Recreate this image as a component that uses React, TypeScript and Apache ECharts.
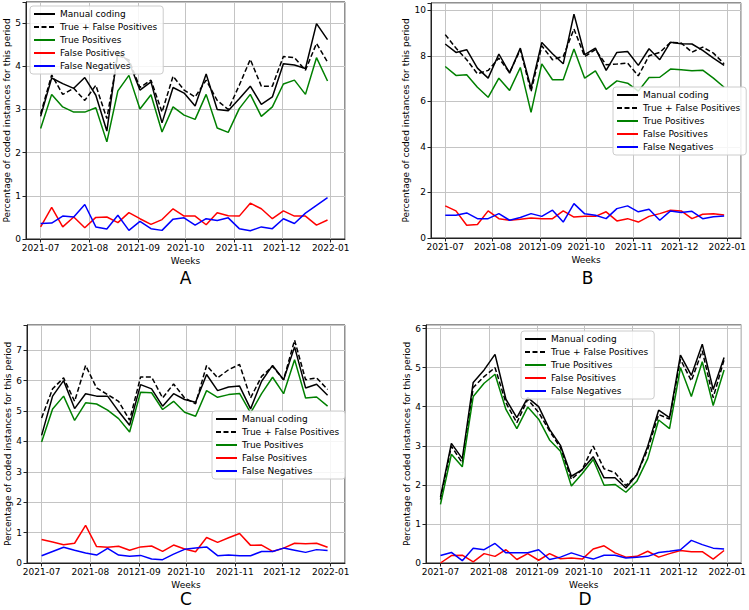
import React, { useEffect, useRef } from 'react';
import * as echarts from 'echarts';

const weekDates = [
  '2021-07-01', '2021-07-08', '2021-07-15', '2021-07-22', '2021-07-29',
  '2021-08-05', '2021-08-12', '2021-08-19', '2021-08-26',
  '2021-09-02', '2021-09-09', '2021-09-16', '2021-09-23', '2021-09-30',
  '2021-10-07', '2021-10-14', '2021-10-21', '2021-10-28',
  '2021-11-04', '2021-11-11', '2021-11-18', '2021-11-25',
  '2021-12-02', '2021-12-09', '2021-12-16', '2021-12-23', '2021-12-30',
];
const monthKeys = ['2021-07', '2021-08', '2021-09', '2021-10', '2021-11', '2021-12', '2022-01'];
const xTickLabels = ['2021-07', '2021-08', '20121-09', '2021-10', '2021-11', '2021-12', '2022-01'];
const seriesNames = ['Manual coding', 'True + False Positives', 'True Positives', 'False Positives', 'False Negatives'];
const panelLetters = ['A', 'B', 'C', 'D'];
const xAxisTitle = 'Weeks';
const yAxisTitle = 'Percentage of coded instances for this period';

// Panel A
const aManual = [2.84, 3.73, 3.6, 3.49, 3.74, 3.33, 2.5, 4.35, 4.1, 3.45, 3.64, 2.69, 3.51, 3.38, 3.08, 3.82, 3.0, 2.97, 3.25, 3.54, 3.12, 3.29, 4.06, 4.03, 3.95, 4.99, 4.62];
const aTFP = [2.9, 3.8, 3.35, 3.49, 3.21, 3.56, 2.79, 4.25, 4.15, 3.51, 3.68, 2.94, 3.77, 3.45, 3.29, 3.68, 3.21, 3.0, 3.56, 4.16, 3.54, 3.54, 4.23, 4.2, 3.91, 4.53, 4.1];
const aTP = [2.56, 3.35, 3.06, 2.94, 2.94, 3.04, 2.25, 3.43, 3.79, 3.01, 3.34, 2.48, 3.06, 2.87, 2.77, 3.35, 2.57, 2.47, 3.02, 3.35, 2.84, 3.06, 3.59, 3.68, 3.35, 4.2, 3.66];
const aFP = [0.28, 0.73, 0.28, 0.51, 0.26, 0.5, 0.51, 0.38, 0.61, 0.47, 0.34, 0.45, 0.7, 0.53, 0.53, 0.33, 0.61, 0.54, 0.53, 0.83, 0.7, 0.47, 0.65, 0.53, 0.53, 0.32, 0.44];
const aFN = [0.36, 0.37, 0.53, 0.51, 0.8, 0.28, 0.23, 0.55, 0.2, 0.41, 0.24, 0.2, 0.46, 0.49, 0.32, 0.47, 0.43, 0.49, 0.24, 0.19, 0.28, 0.24, 0.47, 0.36, 0.6, 0.78, 0.96];

// Panel B
const bManual = [8.52, 8.15, 8.27, 7.46, 7.02, 8.08, 7.24, 8.34, 6.58, 8.59, 8.09, 7.65, 9.83, 8.05, 8.34, 7.36, 8.15, 8.19, 7.58, 8.31, 7.83, 8.6, 8.53, 8.52, 8.24, 7.9, 7.58];
const bTFP = [8.93, 8.34, 7.83, 7.21, 7.36, 7.9, 7.27, 8.27, 6.43, 8.44, 7.83, 7.97, 9.18, 7.97, 8.27, 7.61, 7.64, 7.68, 7.12, 8.0, 8.15, 8.59, 8.56, 8.16, 8.38, 8.12, 7.65];
const bTP = [7.53, 7.14, 7.17, 6.62, 6.18, 7.02, 6.48, 7.49, 5.52, 7.65, 6.95, 6.95, 8.3, 7.02, 7.34, 6.53, 6.9, 6.8, 6.45, 7.05, 7.06, 7.42, 7.39, 7.34, 7.37, 7.02, 6.62];
const bFP = [1.41, 1.19, 0.56, 0.59, 1.19, 0.85, 0.78, 0.82, 0.88, 0.84, 0.85, 1.19, 0.92, 0.95, 0.95, 1.15, 0.75, 0.85, 0.7, 0.95, 1.07, 1.22, 1.19, 0.85, 1.04, 1.07, 1.01];
const bFN = [1.0, 1.0, 1.1, 0.85, 0.85, 1.07, 0.78, 0.9, 1.07, 0.95, 1.22, 0.7, 1.51, 1.06, 1.0, 0.85, 1.29, 1.41, 1.15, 1.26, 0.78, 1.19, 1.12, 1.17, 0.85, 0.93, 0.97];

// Panel C
const cManual = [4.2, 5.49, 6.0, 5.08, 5.57, 5.49, 5.49, 4.99, 4.53, 5.87, 5.73, 5.16, 5.57, 5.38, 5.29, 6.2, 5.67, 5.79, 5.82, 5.07, 5.98, 6.5, 6.03, 7.11, 5.76, 5.88, 5.52];
const cTFP = [4.77, 5.73, 6.09, 5.32, 6.5, 5.76, 5.54, 5.32, 4.7, 6.12, 6.12, 5.43, 5.89, 5.43, 5.24, 6.5, 6.09, 6.36, 6.53, 5.43, 6.14, 6.47, 6.03, 7.33, 6.03, 6.09, 5.71];
const cTP = [3.98, 5.07, 5.49, 4.69, 5.27, 5.23, 5.03, 4.75, 4.31, 5.62, 5.6, 5.05, 5.32, 4.96, 4.83, 5.67, 5.45, 5.54, 5.58, 4.94, 5.57, 6.11, 5.57, 6.69, 5.43, 5.46, 5.16];
const cFP = [0.77, 0.69, 0.6, 0.65, 1.24, 0.54, 0.52, 0.55, 0.42, 0.53, 0.56, 0.38, 0.59, 0.46, 0.37, 0.84, 0.68, 0.83, 0.97, 0.58, 0.59, 0.38, 0.49, 0.65, 0.63, 0.65, 0.52];
const cFN = [0.24, 0.38, 0.52, 0.42, 0.33, 0.26, 0.48, 0.26, 0.22, 0.25, 0.13, 0.11, 0.29, 0.45, 0.49, 0.53, 0.24, 0.26, 0.24, 0.24, 0.38, 0.38, 0.49, 0.42, 0.35, 0.44, 0.41];

// Panel D
const dManual = [1.69, 3.06, 2.67, 4.62, 4.94, 5.34, 4.19, 3.72, 4.23, 4.0, 3.42, 3.01, 2.22, 2.39, 2.72, 2.18, 2.18, 1.92, 2.26, 2.99, 3.91, 3.72, 5.32, 4.8, 5.6, 4.44, 5.26];
const dTFP = [1.62, 2.99, 2.56, 4.49, 4.77, 5.0, 4.1, 3.59, 4.19, 3.85, 3.38, 2.95, 2.14, 2.39, 2.99, 2.41, 2.31, 1.98, 2.26, 2.91, 3.8, 3.68, 5.21, 4.66, 5.43, 4.23, 5.2];
const dTP = [1.5, 2.78, 2.46, 4.26, 4.6, 4.83, 3.93, 3.44, 3.99, 3.68, 3.15, 2.86, 1.97, 2.29, 2.65, 1.99, 2.01, 1.81, 2.09, 2.67, 3.66, 3.44, 5.0, 4.26, 5.15, 4.03, 4.94];
const dFP = [0.0, 0.19, 0.2, 0.03, 0.24, 0.17, 0.34, 0.09, 0.24, 0.07, 0.24, 0.11, 0.13, 0.1, 0.36, 0.44, 0.26, 0.15, 0.17, 0.3, 0.15, 0.24, 0.32, 0.29, 0.29, 0.1, 0.32];
const dFN = [0.19, 0.27, 0.06, 0.38, 0.34, 0.5, 0.26, 0.26, 0.26, 0.34, 0.09, 0.15, 0.26, 0.17, 0.1, 0.2, 0.2, 0.13, 0.15, 0.17, 0.27, 0.3, 0.34, 0.58, 0.47, 0.38, 0.36];

const panelData = [
  [aManual, aTFP, aTP, aFP, aFN],
  [bManual, bTFP, bTP, bFP, bFN],
  [cManual, cTFP, cTP, cFP, cFN],
  [dManual, dTFP, dTP, dFP, dFN],
];
const yMaxes = [5.49, 10.32, 7.83, 6.09];
const yIntervals = [1, 2, 1, 1];

// layout / style (not data)
const layout = [
  { grid: { left: 26, top: 2, width: 319, height: 237 }, yNameGap: 14, legend: { left: 30, top: 6 }, letter: [185.5, 278] },
  { grid: { left: 431, top: 3, width: 313, height: 235 }, yNameGap: 21, legend: { left: 613, top: 87 }, letter: [587.5, 278] },
  { grid: { left: 27, top: 325, width: 318, height: 238 }, yNameGap: 15, legend: { left: 212, top: 411 }, letter: [186, 599] },
  { grid: { left: 426, top: 325, width: 318, height: 238 }, yNameGap: 15, legend: { left: 521, top: 331 }, letter: [585, 599] },
];
const seriesColors = ['#000000', '#000000', '#008000', '#ff0000', '#0000ff'];
const seriesDash: any[] = ['solid', [5, 2.5], 'solid', 'solid', 'solid'];
const FONT = 'DejaVu Sans';
const DAY = 86400000;

const toTs = (s: string) => Date.parse(s + 'T00:00:00Z');
const xMin = Date.UTC(2021, 5, 21, 17);
const xMax = Date.UTC(2022, 0, 10, 2);

const monthLabel = (v: number) => {
  const d = new Date(v);
  if (d.getUTCDate() !== 1 || d.getUTCHours() !== 0 || d.getUTCMinutes() !== 0) return '';
  const key = `${d.getUTCFullYear()}-${String(d.getUTCMonth() + 1).padStart(2, '0')}`;
  const idx = monthKeys.indexOf(key);
  return idx >= 0 ? xTickLabels[idx] : '';
};

export default function App() {
  const ref = useRef<HTMLDivElement>(null);
  useEffect(() => {
    if (!ref.current) return;
    const chart = echarts.init(ref.current, undefined, { renderer: 'svg' });
    const gridLine = { lineStyle: { color: '#c4c4c4', width: 1 } };
    const option: any = {
      animation: false,
      useUTC: true,
      backgroundColor: '#ffffff',
      textStyle: { fontFamily: FONT },
      grid: layout.map((l) => ({ ...l.grid, show: true, borderColor: '#222', borderWidth: 1, backgroundColor: 'transparent' })),
      xAxis: layout.map((l, i) => ({
        type: 'time',
        gridIndex: i,
        min: xMin,
        max: xMax,
        minInterval: 35 * DAY,
        maxInterval: 35 * DAY,
        name: xAxisTitle,
        nameLocation: 'middle',
        nameGap: 17,
        nameTextStyle: { fontSize: 9, color: '#000', fontFamily: FONT },
        axisLine: { show: true, lineStyle: { color: '#222', width: 1 } },
        axisTick: { show: true, length: 3.5, lineStyle: { color: '#222' } },
        axisLabel: { fontSize: 9, color: '#000', margin: 4, fontFamily: FONT, formatter: (v: number) => monthLabel(v), hideOverlap: false },
        splitLine: { show: true, ...gridLine },
      })),
      yAxis: layout.map((l, i) => ({
        type: 'value',
        gridIndex: i,
        min: 0,
        max: yMaxes[i],
        interval: yIntervals[i],
        name: yAxisTitle,
        nameLocation: 'middle',
        nameGap: l.yNameGap,
        nameTextStyle: { fontSize: 9, color: '#000', fontFamily: FONT },
        axisLine: { show: true, lineStyle: { color: '#222', width: 1 } },
        axisTick: { show: true, length: 3.5, lineStyle: { color: '#222' } },
        axisLabel: {
          fontSize: 9, color: '#000', margin: 5, fontFamily: FONT,
          formatter: (v: number) => (Math.abs(v - Math.round(v)) < 1e-9 ? String(Math.round(v)) : ''),
        },
        splitLine: { show: true, ...gridLine },
      })),
      legend: layout.map((l) => ({
        data: seriesNames,
        orient: 'vertical',
        left: l.legend.left,
        top: l.legend.top,
        itemWidth: 21,
        itemHeight: 10,
        itemGap: 3,
        padding: [3, 6, 3, 3],
        backgroundColor: 'rgba(255,255,255,0.85)',
        borderColor: '#cccccc',
        borderWidth: 1,
        borderRadius: 3,
        itemStyle: { opacity: 0 },
        textStyle: { fontSize: 9, color: '#000', fontFamily: FONT, lineHeight: 10 },
      })),
      series: panelData.flatMap((arrs, p) =>
        arrs.map((vals, k) => ({
          type: 'line',
          name: seriesNames[k],
          xAxisIndex: p,
          yAxisIndex: p,
          data: weekDates.map((d, j) => [toTs(d), vals[j]]),
          showSymbol: false,
          symbol: 'none',
          lineStyle: { color: seriesColors[k], width: 1.5, type: seriesDash[k] },
          itemStyle: { color: seriesColors[k] },
          emphasis: { disabled: true },
        }))
      ),
      graphic: layout.map((l, i) => ({
        type: 'text',
        x: l.letter[0],
        y: l.letter[1],
        style: { text: panelLetters[i], fontSize: 17, fontFamily: FONT, fill: '#000', align: 'center', verticalAlign: 'middle' },
      })),
    };
    chart.setOption(option);
    return () => chart.dispose();
  }, []);
  return <div ref={ref} style={{ position: 'absolute', left: 0, top: 0, width: 749, height: 610, background: '#fff' }} />;
}
